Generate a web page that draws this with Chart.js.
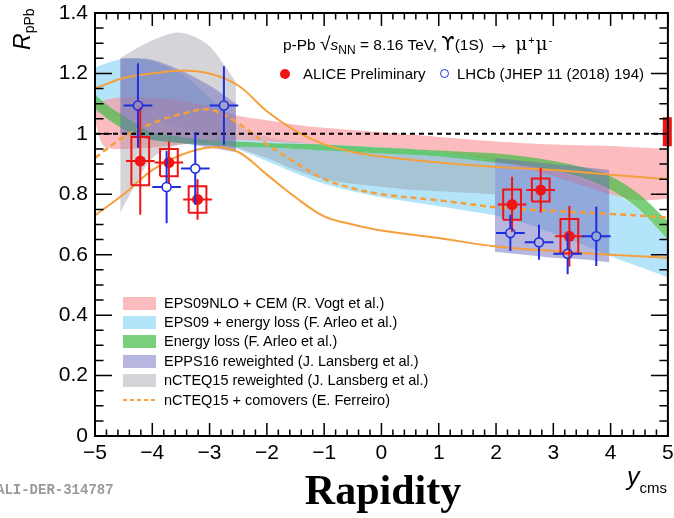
<!DOCTYPE html>
<html>
<head>
<meta charset="utf-8">
<script src="https://cdn.jsdelivr.net/npm/chart.js@4.4.1/dist/chart.umd.min.js"></script>
<style>
  body { margin: 0; background: #fff; }
  #wrap { position: relative; width: 674px; height: 518px; overflow: hidden; font-family: "Liberation Sans", Arial, sans-serif; }
  #wrap canvas { position: absolute; left: 0; top: 0; }
  .txt { position: absolute; white-space: nowrap; color: #000; line-height: 1; }
  .sw { position: absolute; width: 33px; height: 13px; }
  .big { display: inline-block; line-height: 0; }
  .mu { display: inline-block; line-height: 0; font-family: 'DejaVu Serif'; font-size: 18px; margin-left: 1px; }
</style>
</head>
<body>
<div id="wrap">
  <canvas id="chart-rpa" width="674" height="518"></canvas>
  <div class="txt" style="left:283px;top:35px;font-size:15.5px;">p-Pb <span class="big" style="font-size:19px;">√</span><i>s</i><sub style="font-size:12px;">NN</sub> = 8.16 TeV, <span class="big" style="font-family:'DejaVu Sans';font-size:19px;">ϒ</span>(1S) <span class="big" style="font-size:22px;">→</span> <span class="mu">μ</span><sup style="font-size:11px;margin-left:1px;">+</sup><span class="mu">μ</span><sup style="font-size:11px;margin-left:1px;">-</sup></div>
  <div style="position:absolute;left:280px;top:69px;width:10px;height:10px;border-radius:50%;background:#f01414;"></div>
  <div class="txt" style="left:303px;top:66px;font-size:15px;">ALICE Preliminary</div>
  <div style="position:absolute;left:440px;top:69px;width:7px;height:7px;border-radius:50%;border:1.5px solid #1f2de0;"></div>
  <div class="txt" style="left:457px;top:66px;font-size:15px;">LHCb (JHEP 11 (2018) 194)</div>
  <div id="legend"></div>
  <div class="txt" style="left:2px;top:15px;width:44px;height:26px;transform:rotate(-90deg);"><i style="font-size:23px;">R</i><sub style="font-size:14px;">pPb</sub></div>
  <div class="txt" style="left:627px;top:464px;"><i style="font-size:25px;">y</i><span style="font-size:15px;position:relative;top:8px;">cms</span></div>
  <div class="txt" style="left:283px;top:469px;width:200px;text-align:center;font-family:'Liberation Serif',serif;font-weight:bold;font-size:42px;">Rapidity</div>
  <div class="txt" style="left:-4px;top:483px;font-family:'Liberation Mono',monospace;font-weight:bold;font-size:14px;color:#9a9a9a;">ALI-DER-314787</div>
</div>
<script>
// axis tick labels
const xTickLabels = ['−5', '−4', '−3', '−2', '−1', '0', '1', '2', '3', '4', '5'];
const yTickLabels = ['0', '0.2', '0.4', '0.6', '0.8', '1', '1.2', '1.4'];

// EPS09NLO + CEM (Vogt)
const cemX  = [-5, -4.85, -4.6, -4, -3.5, -3, -2.5, -2, -1.5, -1, 0, 1, 2, 3, 3.5, 4, 4.5, 5];
const cemHi = [1.10, 1.11, 1.12, 1.12, 1.11, 1.09, 1.06, 1.045, 1.03, 1.02, 1.005, 0.99, 0.975, 0.965, 0.962, 0.96, 0.955, 0.95];
const cemLo = [1.04, 0.96, 0.95, 0.955, 0.965, 0.975, 0.98, 0.975, 0.97, 0.965, 0.955, 0.94, 0.91, 0.86, 0.83, 0.80, 0.78, 0.785];

// EPS09 + energy loss (Arleo)
const epsElossX  = [-5, -4.6, -4.3, -4, -3.5, -3, -2.5, -2, -1.5, -1, -0.5, 0, 0.5, 1, 1.5, 2, 2.5, 3, 3.5, 4, 4.5, 5];
const epsElossHi = [1.22, 1.245, 1.25, 1.24, 1.2, 1.12, 1.03, 0.99, 0.975, 0.965, 0.96, 0.955, 0.95, 0.94, 0.93, 0.92, 0.9, 0.88, 0.85, 0.81, 0.75, 0.65];
const epsElossLo = [1.07, 1.06, 1.05, 1.04, 1.02, 0.99, 0.95, 0.91, 0.87, 0.835, 0.81, 0.79, 0.775, 0.76, 0.745, 0.73, 0.705, 0.67, 0.635, 0.595, 0.56, 0.525];

// Energy loss (Arleo)
const elossX  = [-5, -4.75, -4.5, -4.25, -4, -3.5, -3, -2.5, -2, -1, 0, 1, 2, 2.5, 3, 3.5, 4, 4.5, 5];
const elossHi = [1.13, 1.09, 1.06, 1.03, 1.005, 0.99, 0.98, 0.975, 0.97, 0.965, 0.955, 0.945, 0.935, 0.925, 0.91, 0.89, 0.86, 0.80, 0.71];
const elossLo = [1.085, 1.045, 1.015, 0.995, 0.98, 0.97, 0.962, 0.957, 0.955, 0.945, 0.935, 0.925, 0.905, 0.895, 0.88, 0.855, 0.815, 0.75, 0.65];

// EPPS16 reweighted (Lansberg), backward and forward
const eppsBackX  = [-4.56, -4.3, -4.0, -3.5, -3.0, -2.54];
const eppsBackHi = [1.25, 1.25, 1.245, 1.21, 1.16, 1.10];
const eppsBackLo = [1.0, 0.99, 0.98, 0.97, 0.955, 0.94];
const eppsFwdX  = [1.98, 2.5, 3.0, 3.5, 3.98];
const eppsFwdHi = [0.92, 0.91, 0.90, 0.89, 0.88];
const eppsFwdLo = [0.61, 0.60, 0.59, 0.585, 0.575];

// nCTEQ15 reweighted (Lansberg)
const ncteqBackX  = [-4.56, -4.3, -4.0, -3.6, -3.3, -3.0, -2.75, -2.54];
const ncteqBackHi = [1.25, 1.28, 1.31, 1.335, 1.325, 1.29, 1.23, 1.17];
const ncteqBackLo = [0.74, 0.83, 0.92, 0.96, 0.97, 0.965, 0.95, 0.94];
const ncteqMidX  = [-2.54, -2.0, -1.5, -1.0, -0.5, 0, 0.5, 1.0, 1.5, 1.98];
const ncteqMidHi = [0.96, 0.955, 0.95, 0.945, 0.94, 0.935, 0.93, 0.925, 0.918, 0.91];
const ncteqMidLo = [0.955, 0.92, 0.88, 0.85, 0.835, 0.825, 0.815, 0.81, 0.805, 0.80];

// nCTEQ15 + comovers (Ferreiro)
const comovX   = [-5, -4.5, -4, -3.5, -3, -2.5, -2, -1.5, -1, -0.5, 0, 1, 2, 3, 4, 5];
const comovHi  = [1.15, 1.185, 1.2, 1.21, 1.2, 1.16, 1.075, 1.01, 0.965, 0.94, 0.925, 0.905, 0.89, 0.88, 0.865, 0.85];
const comovMid = [0.92, 0.99, 1.035, 1.065, 1.08, 1.035, 0.965, 0.905, 0.85, 0.82, 0.80, 0.78, 0.757, 0.745, 0.735, 0.723];
const comovLo  = [0.73, 0.80, 0.88, 0.93, 0.955, 0.94, 0.865, 0.79, 0.727, 0.70, 0.68, 0.655, 0.627, 0.612, 0.60, 0.59];

// ALICE preliminary
const aliceX    = [-4.21, -3.71, -3.21, 2.28, 2.78, 3.28];
const aliceY    = [0.91, 0.905, 0.783, 0.766, 0.814, 0.661];
const aliceStat = [0.178, 0.07, 0.067, 0.092, 0.074, 0.10];
const aliceSyst = [0.08, 0.045, 0.044, 0.05, 0.038, 0.057];
const aliceBinHalf = 0.25;
const aliceGlobal = [0.959, 1.055];

// LHCb
const lhcbX   = [-4.25, -3.75, -3.25, -2.75, 2.25, 2.75, 3.25, 3.75];
const lhcbY   = [1.094, 0.824, 0.885, 1.094, 0.672, 0.641, 0.603, 0.661];
const lhcbErr = [0.14, 0.12, 0.12, 0.13, 0.06, 0.058, 0.068, 0.098];
const lhcbBinHalf = 0.25;

const legendLabels = [
  'EPS09NLO + CEM (R. Vogt et al.)',
  'EPS09 + energy loss (F. Arleo et al.)',
  'Energy loss (F. Arleo et al.)',
  'EPPS16 reweighted (J. Lansberg et al.)',
  'nCTEQ15 reweighted (J. Lansberg et al.)',
  'nCTEQ15 + comovers (E. Ferreiro)'
];

const pinkCol = 'rgba(250,150,155,0.65)';
const cyanCol = 'rgba(130,210,245,0.6)';
const greenCol = 'rgba(70,190,70,0.72)';
const purpleCol = 'rgba(110,110,190,0.5)';
const greyCol = 'rgba(150,150,160,0.4)';
const orangeCol = '#f5a03c';
const redCol = '#f01414';
const blueCol = '#1f2de0';

const boxHalfW = 0.155;   // width of syst. boxes
const gapY = 0.016, gapX = 0.08;  // open marker hole for LHCb bars

const pts = (xs, ys) => xs.map((x, i) => ({ x: x, y: ys[i] }));

function band(xs, hi, lo, color, order) {
  return [
    { data: pts(xs, hi), borderWidth: 0, pointRadius: 0, fill: false, tension: 0.3, order: order },
    { data: pts(xs, lo), borderWidth: 0, pointRadius: 0, fill: '-1', backgroundColor: color, tension: 0.3, order: order }
  ];
}

function errBars(xs, ys, lo, hi, half, gx, gy) {
  let d = [];
  xs.forEach((x, i) => {
    const y = ys[i];
    if (gy > 0) {
      d.push({ x: x, y: y - lo[i] }, { x: x, y: y - gy }, { x: x, y: null });
      d.push({ x: x, y: y + gy }, { x: x, y: y + hi[i] }, { x: x, y: null });
      d.push({ x: x - half, y: y }, { x: x - gx, y: y }, { x: x, y: null });
      d.push({ x: x + gx, y: y }, { x: x + half, y: y }, { x: x, y: null });
    } else {
      d.push({ x: x, y: y - lo[i] }, { x: x, y: y + hi[i] }, { x: x, y: null });
      d.push({ x: x - half, y: y }, { x: x + half, y: y }, { x: x, y: null });
    }
  });
  return d;
}

function boxes(xs, ys, s, w) {
  let d = [];
  xs.forEach((x, i) => {
    const y = ys[i];
    d.push({ x: x - w, y: y - s[i] }, { x: x + w, y: y - s[i] }, { x: x + w, y: y + s[i] },
           { x: x - w, y: y + s[i] }, { x: x - w, y: y - s[i] }, { x: x, y: null });
  });
  return d;
}

const line = (data, color, width, dash, order) => ({
  data: data, borderColor: color, borderWidth: width, borderDash: dash, pointRadius: 0,
  fill: false, tension: 0.35, order: order
});

let datasets = [];
datasets.push(...band(epsElossX, epsElossHi, epsElossLo, cyanCol, 100));
datasets.push(...band(cemX, cemHi, cemLo, pinkCol, 90));
datasets.push(...band(ncteqBackX, ncteqBackHi, ncteqBackLo, greyCol, 80));
datasets.push(...band(ncteqMidX, ncteqMidHi, ncteqMidLo, greyCol, 80));
datasets.push(...band(elossX, elossHi, elossLo, greenCol, 70));
datasets.push(...band(eppsBackX, eppsBackHi, eppsBackLo, purpleCol, 60));
datasets.push(...band(eppsFwdX, eppsFwdHi, eppsFwdLo, purpleCol, 60));
datasets.push(line(pts(comovX, comovHi), orangeCol, 2, [], 50));
datasets.push(line(pts(comovX, comovLo), orangeCol, 2, [], 50));
datasets.push(line(pts(comovX, comovMid), orangeCol, 2.5, [6, 4], 50));
// unity reference
datasets.push({ data: [{ x: -5, y: 1 }, { x: 5, y: 1 }], borderColor: '#000', borderWidth: 2, borderDash: [5, 4], pointRadius: 0, fill: false, order: 40 });
// global uncertainty
datasets.push({ data: [{ x: 4.99, y: aliceGlobal[0] }, { x: 4.99, y: aliceGlobal[1] }], borderColor: redCol, borderWidth: 9, borderCapStyle: 'butt', pointRadius: 0, fill: false, clip: false, order: 35 });
// ALICE
datasets.push({ data: boxes(aliceX, aliceY, aliceSyst, boxHalfW), borderColor: redCol, borderWidth: 2, pointRadius: 0, fill: false, order: 30 });
datasets.push({ data: errBars(aliceX, aliceY, aliceStat, aliceStat, aliceBinHalf, 0, 0), borderColor: redCol, borderWidth: 2, pointRadius: 0, fill: false, order: 29 });
datasets.push({ data: pts(aliceX, aliceY), showLine: false, pointRadius: 5.5, pointBackgroundColor: redCol, pointBorderWidth: 0, order: 28 });
// LHCb
datasets.push({ data: errBars(lhcbX, lhcbY, lhcbErr, lhcbErr, lhcbBinHalf, gapX, gapY), borderColor: blueCol, borderWidth: 2, pointRadius: 0, fill: false, order: 20 });
datasets.push({ data: pts(lhcbX, lhcbY), showLine: false, pointRadius: 4.5, pointBackgroundColor: 'rgba(0,0,0,0)', pointBorderColor: blueCol, pointBorderWidth: 1.6, order: 19 });

// ROOT-style frame with inner ticks on all four sides
const frameTicks = {
  id: 'frameTicks',
  afterDatasetsDraw(chart) {
    const { ctx, chartArea: a, scales: { x, y } } = chart;
    ctx.save();
    ctx.strokeStyle = '#000';
    ctx.lineWidth = 1.5;
    ctx.beginPath();
    for (let i = 0; i <= 50; i++) {
      const px = x.getPixelForValue(-5 + i * 0.2);
      const len = i % 5 === 0 ? 13 : 6.5;
      ctx.moveTo(px, a.bottom); ctx.lineTo(px, a.bottom - len);
      ctx.moveTo(px, a.top); ctx.lineTo(px, a.top + len);
    }
    for (let i = 0; i <= 28; i++) {
      const py = y.getPixelForValue(i * 0.05);
      const len = i % 4 === 0 ? 17 : 8.5;
      ctx.moveTo(a.left, py); ctx.lineTo(a.left + len, py);
      ctx.moveTo(a.right, py); ctx.lineTo(a.right - len, py);
    }
    ctx.stroke();
    ctx.lineWidth = 2;
    ctx.strokeRect(a.left, a.top, a.right - a.left, a.bottom - a.top);
    ctx.restore();
  }
};

const tickFont = { family: 'Liberation Sans', size: 21 };

new Chart(document.getElementById('chart-rpa').getContext('2d'), {
  type: 'line',
  data: { datasets: datasets },
  options: {
    responsive: false,
    animation: false,
    events: [],
    layout: { padding: { top: 13, right: 3, left: 0, bottom: 0 } },
    plugins: { legend: { display: false }, tooltip: { enabled: false } },
    scales: {
      x: {
        type: 'linear', min: -5, max: 5,
        grid: { display: false, drawTicks: false },
        border: { display: false },
        ticks: { stepSize: 1, autoSkip: false, maxRotation: 0, padding: 5, color: '#000', font: tickFont,
                 callback: (v, i) => xTickLabels[i] },
        afterFit(scale) { scale.height = 82; scale.paddingLeft = 0; scale.paddingRight = 0; }
      },
      y: {
        min: 0, max: 1.4,
        grid: { display: false, drawTicks: false },
        border: { display: false },
        ticks: { stepSize: 0.2, autoSkip: false, padding: 7, color: '#000', font: tickFont,
                 callback: (v, i) => yTickLabels[i] },
        afterFit(scale) { scale.width = 95; scale.paddingTop = 0; scale.paddingBottom = 0; }
      }
    }
  },
  plugins: [frameTicks]
});

// legend inside the frame
const swatches = [pinkCol, cyanCol, greenCol, purpleCol, greyCol, null];
const leg = document.getElementById('legend');
legendLabels.forEach((lab, i) => {
  const cy = 303 + i * 19.4;
  const sw = document.createElement('div');
  sw.className = 'sw';
  sw.style.left = '123px';
  if (swatches[i]) {
    sw.style.top = (cy - 6.5) + 'px';
    sw.style.background = swatches[i];
  } else {
    sw.style.top = (cy - 1) + 'px';
    sw.style.height = '2px';
    sw.style.background = 'repeating-linear-gradient(90deg,' + orangeCol + ' 0 4px, transparent 4px 7px)';
  }
  leg.appendChild(sw);
  const t = document.createElement('div');
  t.className = 'txt';
  t.style.left = '164px';
  t.style.top = (cy - 7.5) + 'px';
  t.style.fontSize = '14.5px';
  t.textContent = lab;
  leg.appendChild(t);
});
</script>
</body>
</html>
